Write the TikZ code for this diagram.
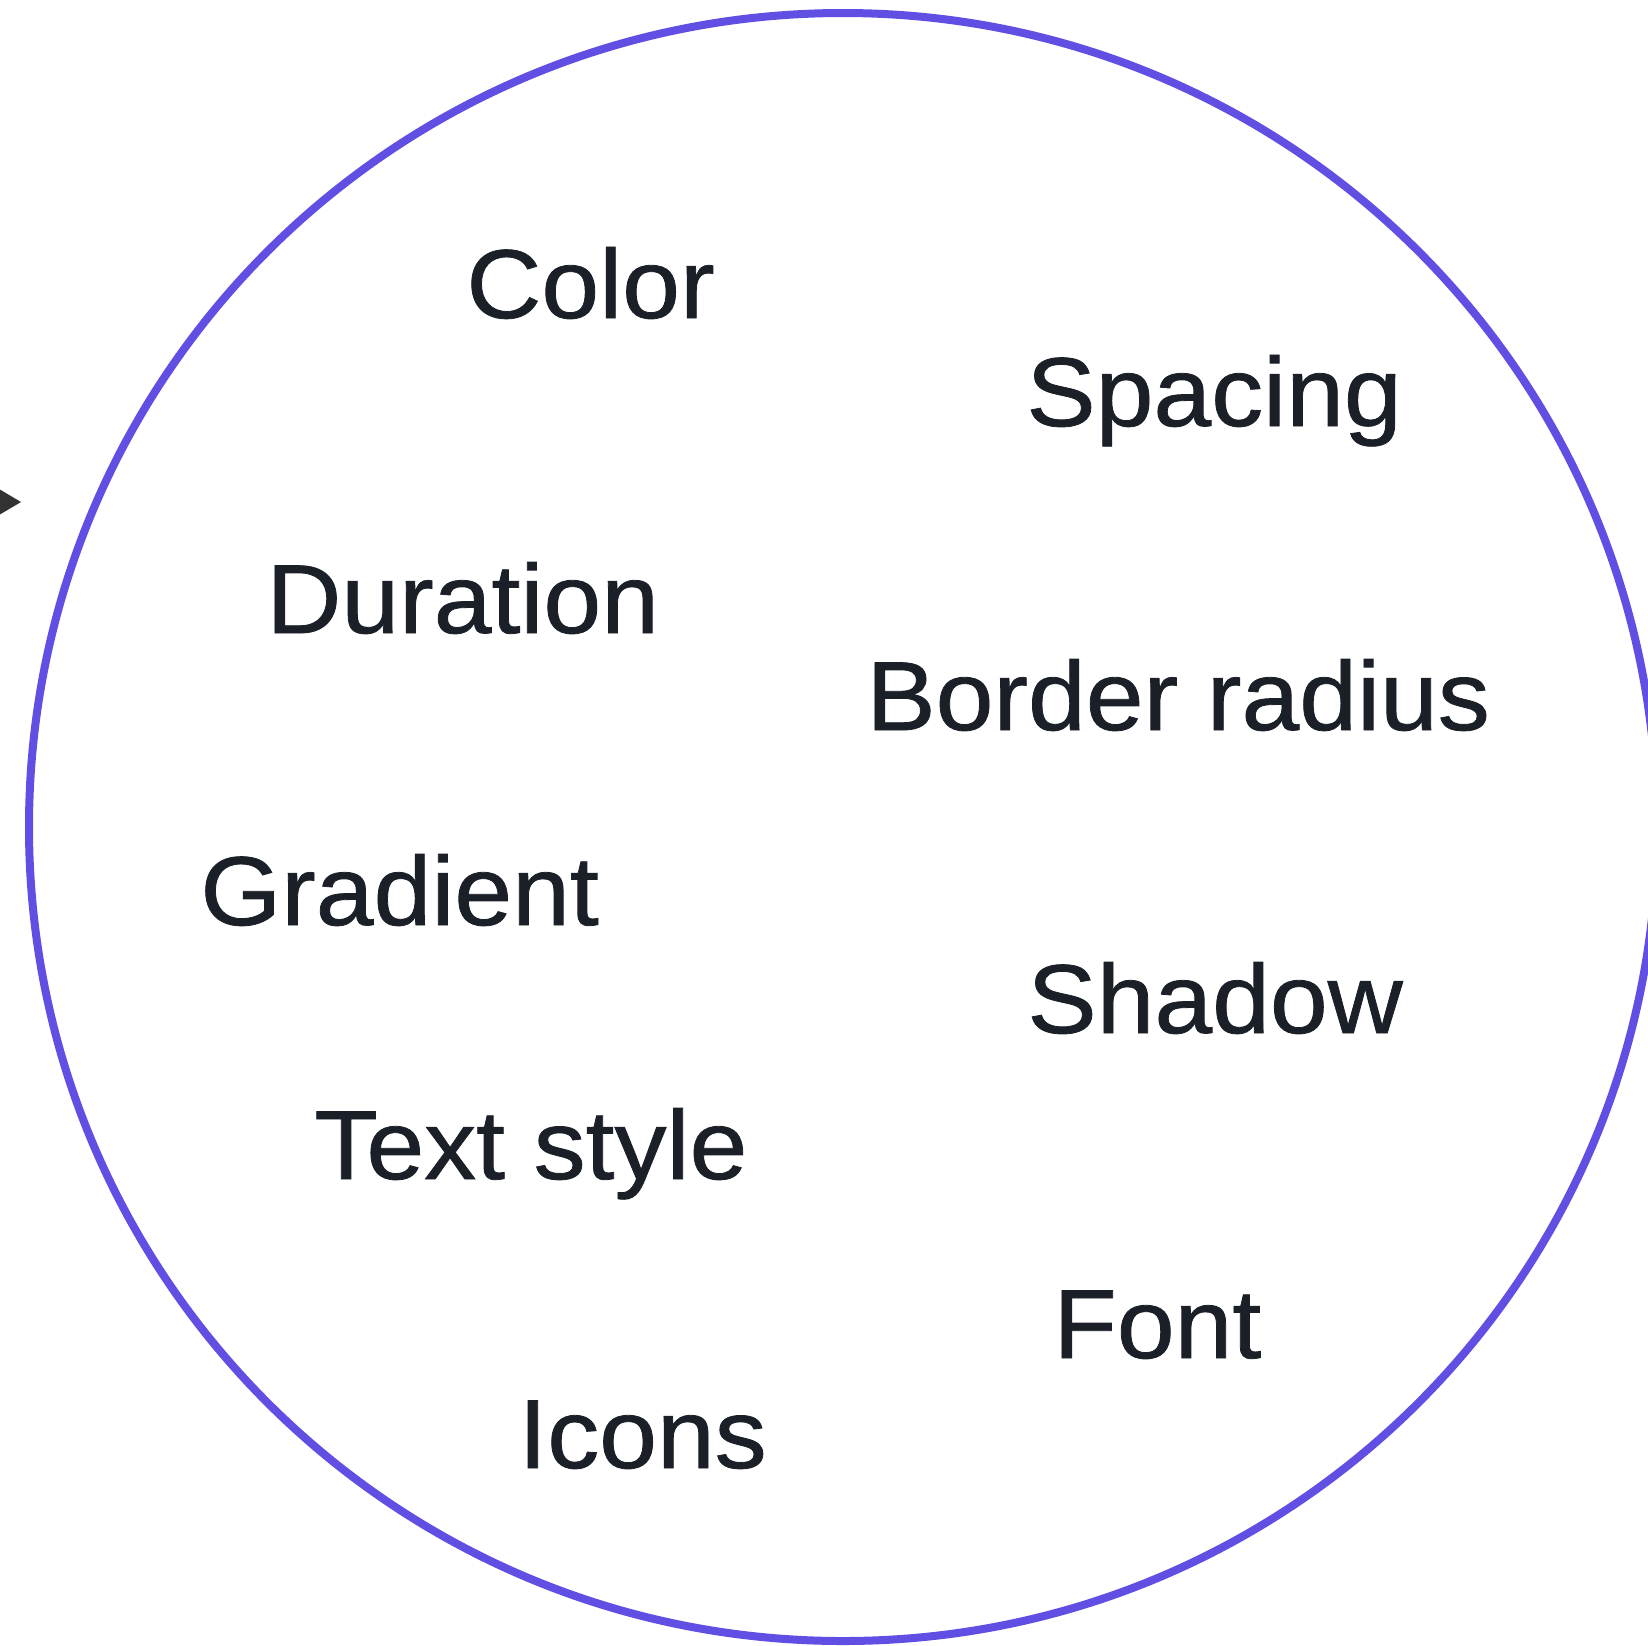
\documentclass[tikz,border=0pt]{standalone}
\usepackage{fontspec}
\setmainfont[FakeStretch=1.06,FakeBold=0.8]{Liberation Sans}
\definecolor{RingBlue}{RGB}{97,79,228}
\definecolor{InkDark}{RGB}{27,32,40}
\definecolor{TipGray}{RGB}{50,50,50}
\usetikzlibrary{positioning}
\tikzset{
	tok/.style={
		anchor=base west,inner sep=0pt,text=InkDark,
		font=\fontsize{49}{55}\selectfont}
}

\begin{document}
\begin{tikzpicture}[x=0.5pt,y=-0.5pt]
	\useasboundingbox (0,0) rectangle (1648,1645);
	\draw[RingBlue,line width=4pt] (843,827) circle [radius=814];
	\fill[TipGray] (-6,486) -- (21,502) -- (-6,518) -- cycle;
	% tokens inside the ring
	\node[tok] (color) at (466,318) {Color};
	\node[tok] (spacing) at (1026,426) {Spacing};
	\node[tok] (duration) at (266,633) {Duration};
	\node[tok] (radius) at (866,730) {Border radius};
	\node[tok] (gradient) at (200,925) {Gradient};
	\node[tok] (shadow) at (1027,1033) {Shadow};
	\node[tok] (textstyle) at (314,1179) {Text style};
	\node[tok] (font) at (1053,1358) {Font};
	\node[tok] (icons) at (518,1468) {Icons};
\end{tikzpicture}
\end{document}
